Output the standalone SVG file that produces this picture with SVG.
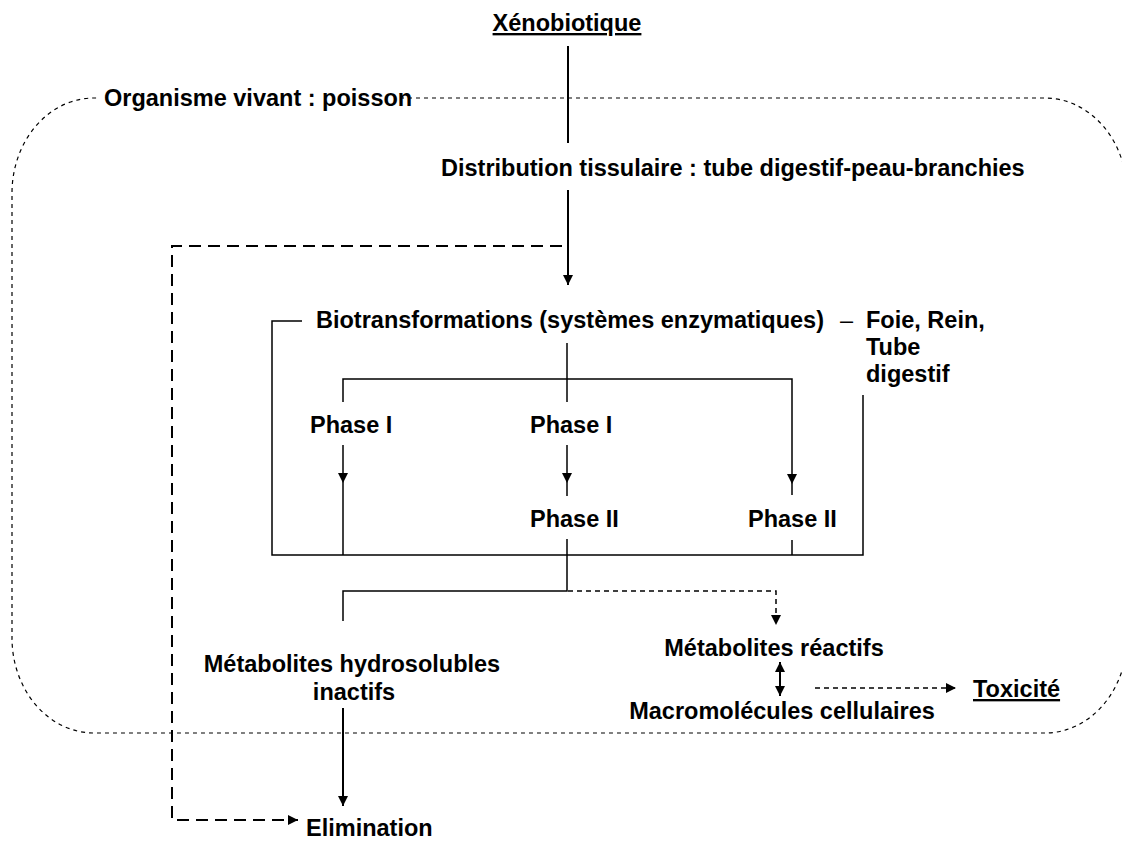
<svg xmlns="http://www.w3.org/2000/svg" width="1122" height="860" viewBox="0 0 1122 860">
<defs>
<marker id="ah" viewBox="0 0 10 10" refX="10" refY="5" markerWidth="10" markerHeight="10" markerUnits="userSpaceOnUse" orient="auto"><path d="M0,0 L10,5 L0,10 Z" fill="#000"/></marker>
<marker id="ahs" viewBox="0 0 10 10" refX="10" refY="5" markerWidth="10" markerHeight="10" markerUnits="userSpaceOnUse" orient="auto-start-reverse"><path d="M0,0 L10,5 L0,10 Z" fill="#000"/></marker>
</defs>
<style>
text{font-family:"Liberation Sans",Arial,sans-serif;font-weight:bold;font-size:23.5px;fill:#000}
.u{text-decoration:underline}
.m{text-anchor:middle}
.thin{font-weight:normal}
.s{fill:none;stroke:#000;stroke-width:1.5}
.a{fill:none;stroke:#000;stroke-width:2}
.org{fill:none;stroke:#000;stroke-width:1.2;stroke-dasharray:4 4}
.d{fill:none;stroke:#000;stroke-width:1.5;stroke-dasharray:5 4}
.ld{fill:none;stroke:#000;stroke-width:2;stroke-dasharray:12 7}
</style>
<rect width="1122" height="860" fill="#fff"/>
<g id="organisme">
<path class="org" d="M400,98 H1045 A82,95 0 0 1 1127,193 V638 A82,95 0 0 1 1045,733 H94 A82,95 0 0 1 12,638 V193 A82,95 0 0 1 94,98 H98"/>
<text x="104" y="106">Organisme vivant : poisson</text>
</g>
<g id="connectors">
<line class="a" x1="568" y1="46" x2="568" y2="143"/>
<line class="a" x1="568" y1="190" x2="568" y2="285" marker-end="url(#ah)"/>
<path class="ld" d="M562,246 H172 V820 H298" marker-end="url(#ah)"/>
<path class="s" d="M302,321 H272 V555 H863 V395"/>
<line class="s" x1="567" y1="343" x2="567" y2="402"/>
<path class="s" d="M343,402 V379 H792 V484" marker-end="url(#ah)"/>
<line class="s" x1="792" y1="484" x2="792" y2="495"/>
<line class="s" x1="343" y1="445" x2="343" y2="483" marker-end="url(#ah)"/>
<line class="s" x1="343" y1="483" x2="343" y2="555"/>
<line class="s" x1="567" y1="445" x2="567" y2="483" marker-end="url(#ah)"/>
<line class="s" x1="567" y1="483" x2="567" y2="496"/>
<line class="s" x1="792" y1="540" x2="792" y2="555"/>
<path class="s" d="M567,539 V591 H343 V621"/>
<path class="d" d="M568,591 H776 V625" marker-end="url(#ah)"/>
<line class="a" x1="343" y1="708" x2="343" y2="806" marker-end="url(#ah)"/>
<line class="a" x1="780" y1="662" x2="780" y2="696" marker-start="url(#ahs)" marker-end="url(#ah)"/>
<line class="d" x1="815" y1="688" x2="956" y2="688" marker-end="url(#ah)"/>
</g>
<g id="xenobiotique"><text class="m u" x="567" y="31">Xénobiotique</text></g>
<g id="distribution"><text x="441" y="176">Distribution tissulaire : tube digestif-peau-branchies</text></g>
<g id="biotransformations"><text x="316" y="328">Biotransformations (systèmes enzymatiques)</text><text class="thin" x="840" y="328">–</text></g>
<g id="organes"><text x="866" y="328">Foie, Rein,</text><text x="866" y="355">Tube</text><text x="866" y="382">digestif</text></g>
<g id="phase1-gauche"><text x="310" y="433">Phase I</text></g>
<g id="phase1-centre"><text x="530" y="433">Phase I</text></g>
<g id="phase2-centre"><text x="530" y="527">Phase II</text></g>
<g id="phase2-droite"><text x="748" y="527">Phase II</text></g>
<g id="hydrosolubles"><text class="m" x="352" y="672">Métabolites hydrosolubles</text><text class="m" x="354" y="700">inactifs</text></g>
<g id="reactifs"><text class="m" x="774" y="656">Métabolites réactifs</text></g>
<g id="macromolecules"><text class="m" x="782" y="719">Macromolécules cellulaires</text></g>
<g id="toxicite"><text class="u" x="973" y="697">Toxicité</text></g>
<g id="elimination"><text x="306" y="836">Elimination</text></g>
</svg>
